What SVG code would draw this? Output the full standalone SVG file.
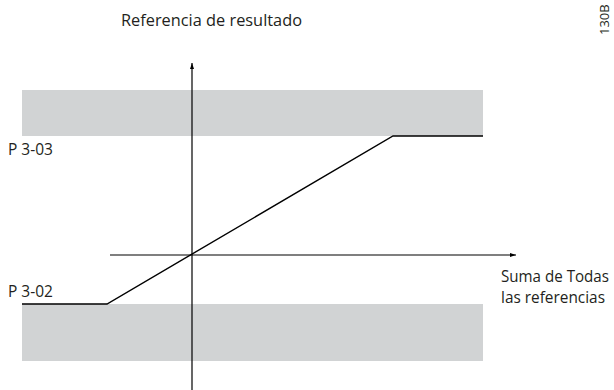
<svg xmlns="http://www.w3.org/2000/svg" width="614" height="390" viewBox="0 0 614 390">
  <style>
    .band { fill: #d1d3d4; stroke: none; }
    .ax { stroke: #000; stroke-width: 1.2; fill: none; }
    .curve { stroke: #000; stroke-width: 1.4; fill: none; stroke-linejoin: miter; }
    .lbl { font-family: "Open Sans", "Liberation Sans", sans-serif; font-size: 15.5px; fill: #231f20; }
    .code { font-family: "Open Sans", "Liberation Sans", sans-serif; font-size: 13px; fill: #231f20; }
  </style>
  <defs>
    <marker id="arr" viewBox="0 0 6 4" refX="6" refY="2" markerWidth="6" markerHeight="4" markerUnits="userSpaceOnUse" orient="auto">
      <path d="M0,0 L6,2 L0,4 Z" fill="#000"/>
    </marker>
  </defs>
  <g id="band-top"><rect class="band" x="22" y="90" width="461" height="46"/></g>
  <g id="band-bottom"><rect class="band" x="22" y="304" width="461" height="57"/></g>
  <g id="connectors">
    <line class="ax" x1="192" y1="390" x2="192" y2="63" marker-end="url(#arr)"/>
    <line class="ax" x1="110" y1="255" x2="516" y2="255" marker-end="url(#arr)"/>
    <polyline class="curve" points="22,304 107,304 393,136 483,136"/>
  </g>
  <g id="label-y"><text class="lbl" x="121" y="26" textLength="181" lengthAdjust="spacingAndGlyphs">Referencia de resultado</text></g>
  <g id="label-p303"><text class="lbl" x="8" y="155" textLength="45" lengthAdjust="spacingAndGlyphs">P 3-03</text></g>
  <g id="label-p302"><text class="lbl" x="8" y="297" textLength="45" lengthAdjust="spacingAndGlyphs">P 3-02</text></g>
  <g id="label-x">
    <text class="lbl" x="501" y="282" textLength="108" lengthAdjust="spacingAndGlyphs">Suma de Todas</text>
    <text class="lbl" x="501" y="303" textLength="104" lengthAdjust="spacingAndGlyphs">las referencias</text>
  </g>
  <g id="code"><text class="code" transform="rotate(-90 609 35)" x="609" y="35">130B</text></g>
</svg>
